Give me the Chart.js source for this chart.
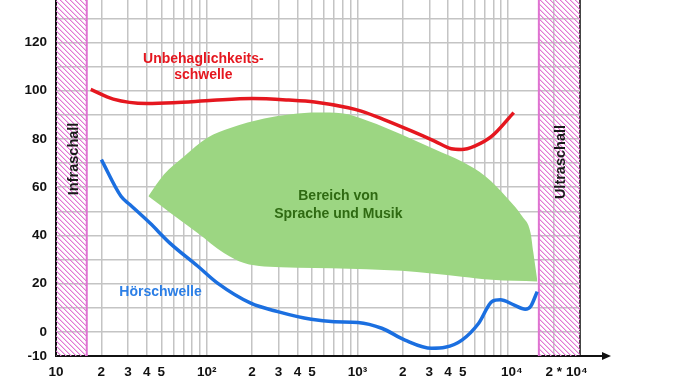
<!DOCTYPE html>
<html>
<head>
<meta charset="utf-8">
<script src="https://cdn.jsdelivr.net/npm/chart.js@4"></script>
<style>
  body { margin: 0; background: #fff; }
  #wrap { position: relative; width: 678px; height: 381px; overflow: hidden; }
  #grafico { position: absolute; left: 0; top: -40px; }
</style>
</head>
<body>
<div id="wrap"><canvas id="grafico" width="678" height="421"></canvas></div>
<script>
// Frecuencias (Hz) y niveles (dB)
var unbehagF = [17, 24, 40, 60, 110, 200, 350, 520, 870, 1060, 1500, 2300, 3250, 4200, 4900, 6000, 7800, 10900];
var unbehagDb = [100.5, 96.5, 94.7, 95.0, 96.0, 96.7, 96.1, 95.3, 92.9, 91.5, 88.0, 83.2, 79.1, 75.9, 75.6, 77.0, 81.1, 90.9];

var hoerF = [20, 27, 31, 42, 57, 87, 118, 196, 296, 494, 703, 1010, 1450, 2070, 3110, 3820, 4940, 6380, 7820, 8880, 10900, 13000, 14100, 15600];
var hoerDb = [71.4, 56.2, 52.7, 45.1, 36.8, 27.3, 20.2, 11.9, 8.4, 5.2, 4.2, 3.9, 1.5, -3.4, -6.8, -6.4, -3.4, 3.6, 12.6, 13.3, 11.2, 9.4, 10.5, 16.7];

var spracheObenF = [41, 52, 71, 101, 145, 241, 363, 547, 782, 1180, 1965, 3280, 4940, 7060, 10100, 12400, 14100, 14700, 15600];
var spracheObenDb = [56.2, 65.2, 72.8, 80.5, 84.6, 88.4, 90.2, 90.9, 90.6, 87.4, 81.8, 75.6, 70.6, 64.5, 54.8, 47.9, 41.0, 33.0, 21.6];
var spracheUntenF = [41, 57.5, 87, 130, 177, 241, 671, 1965, 4940, 7820, 15600];
var spracheUntenDb = [56.2, 49.3, 41.0, 32.7, 28.5, 27.1, 26.4, 25.3, 22.9, 21.6, 20.9];

var infraGrenze = [10, 16];
var ultraGrenze = [16000, 30000];
var yMin = -10, yMax = 150;

var xTicks = [10, 20, 30, 40, 50, 60, 70, 80, 90,
  100, 200, 300, 400, 500, 600, 700, 800, 900,
  1000, 2000, 3000, 4000, 5000, 6000, 7000, 8000, 9000,
  10000, 20000, 30000];
var xTickLabels = ['10', '2', '3', '4', '5', '', '', '', '',
  '10²', '2', '3', '4', '5', '', '', '', '',
  '10³', '2', '3', '4', '5', '', '', '', '',
  '  10⁴', '       2 * 10⁴', ''];

function puntos(xs, ys) {
  return xs.map(function(x, i) { return {x: x, y: ys[i]}; });
}

// Patrón rayado rosa (solo diagonales "\")
function rayado() {
  var s = 10;
  var c = document.createElement('canvas');
  c.width = s; c.height = s;
  var g = c.getContext('2d');
  var img = g.createImageData(s, s);
  for (var y = 0; y < s; y++) {
    for (var x = 0; x < s; x++) {
      var d = ((x - y) % 5 + 5) % 5;
      var a = d === 0 ? 255 : (d === 1 ? 110 : 0);
      var k = (y * s + x) * 4;
      img.data[k] = 226; img.data[k + 1] = 120; img.data[k + 2] = 212; img.data[k + 3] = a;
    }
  }
  g.putImageData(img, 0, 0);
  return g.createPattern(c, 'repeat');
}

var ctx = document.getElementById('grafico').getContext('2d');
var patron = rayado();
var rosa = '#df72d1';
var fuente = '"Liberation Sans", Arial, Helvetica, sans-serif';

var textos = [
  {t: 'Unbehaglichkeits-', x: 95, y: 113.0, c: '#e5171f'},
  {t: 'schwelle', x: 95, y: 106.4, c: '#e5171f'},
  {t: 'Hörschwelle', x: 49.4, y: 16.3, c: '#2c7fe6'},
  {t: 'Bereich von', x: 747, y: 56.1, c: '#2f6a12'},
  {t: 'Sprache und Musik', x: 747, y: 49, c: '#2f6a12'}
];
var textosVert = [
  {t: 'Infraschall', x: 14.0, y: 71.7},
  {t: 'Ultraschall', x: 23700, y: 70.4}
];

var anotaciones = {
  id: 'anotaciones',
  afterDatasetsDraw: function(chart) {
    var c = chart.ctx, xs = chart.scales.x, ys = chart.scales.y;
    c.save();
    c.font = 'bold 14px ' + fuente;
    c.textAlign = 'center';
    c.textBaseline = 'middle';
    textos.forEach(function(n) {
      c.fillStyle = n.c;
      c.fillText(n.t, xs.getPixelForValue(n.x), ys.getPixelForValue(n.y));
    });
    c.font = 'bold 14.5px ' + fuente;
    c.fillStyle = '#1a1a1a';
    c.textBaseline = 'alphabetic';
    textosVert.forEach(function(n) {
      c.save();
      c.translate(xs.getPixelForValue(n.x), ys.getPixelForValue(n.y));
      c.rotate(-Math.PI / 2);
      c.fillText(n.t, 0, 0);
      c.restore();
    });
    c.restore();
  },
  afterDraw: function(chart) {
    // flecha del eje x
    var c = chart.ctx, a = chart.chartArea;
    c.save();
    c.strokeStyle = '#111';
    c.fillStyle = '#111';
    c.lineWidth = 2;
    c.beginPath();
    c.moveTo(a.right, a.bottom);
    c.lineTo(a.right + 24, a.bottom);
    c.stroke();
    c.beginPath();
    c.moveTo(a.right + 22, a.bottom - 4);
    c.lineTo(a.right + 31, a.bottom);
    c.lineTo(a.right + 22, a.bottom + 4);
    c.closePath();
    c.fill();
    c.restore();
  }
};

var sinPuntos = {pointRadius: 0, pointHoverRadius: 0};

var grafico = new Chart(ctx, {
  type: 'line',
  data: {
    datasets: [
      Object.assign({data: puntos(unbehagF, unbehagDb), borderColor: '#e5171f', borderWidth: 3.5,
        cubicInterpolationMode: 'monotone', fill: false, order: 1}, sinPuntos),
      Object.assign({data: puntos(hoerF, hoerDb), borderColor: '#1b6fe0', borderWidth: 3.5,
        cubicInterpolationMode: 'monotone', fill: false, order: 1}, sinPuntos),
      Object.assign({data: puntos(spracheObenF, spracheObenDb), borderColor: 'rgba(0,0,0,0)', borderWidth: 0,
        backgroundColor: '#9cd682', cubicInterpolationMode: 'monotone', fill: '+1', order: 4}, sinPuntos),
      Object.assign({data: puntos(spracheUntenF, spracheUntenDb), borderColor: 'rgba(0,0,0,0)', borderWidth: 0,
        cubicInterpolationMode: 'monotone', fill: false, order: 4}, sinPuntos),
      Object.assign({data: puntos(infraGrenze, [yMax, yMax]), borderColor: 'rgba(0,0,0,0)', borderWidth: 0,
        backgroundColor: patron, fill: 'start', order: 6}, sinPuntos),
      Object.assign({data: puntos(ultraGrenze, [yMax, yMax]), borderColor: 'rgba(0,0,0,0)', borderWidth: 0,
        backgroundColor: patron, fill: 'start', order: 6}, sinPuntos),
      Object.assign({data: puntos([infraGrenze[1], infraGrenze[1]], [yMin, yMax]), borderColor: rosa,
        borderWidth: 2, fill: false, order: 3}, sinPuntos),
      Object.assign({data: puntos([ultraGrenze[0], ultraGrenze[0]], [yMin, yMax]), borderColor: rosa,
        borderWidth: 2, fill: false, order: 3}, sinPuntos)
    ]
  },
  options: {
    responsive: false,
    animation: false,
    devicePixelRatio: 1,
    layout: {padding: {top: 10, right: 98, bottom: 0, left: 0}},
    plugins: {legend: {display: false}, tooltip: {enabled: false}},
    scales: {
      x: {
        type: 'logarithmic',
        min: 10,
        max: 30000,
        afterBuildTicks: function(scale) {
          scale.ticks = xTicks.map(function(v) { return {value: v}; });
        },
        afterFit: function(scale) {
          scale.height = 25;
          scale.paddingLeft = 0; scale.paddingRight = 0;
        },
        grid: {
          drawTicks: false,
          color: function(c) { return c.tick && c.tick.value === 30000 ? '#444' : '#c4c4c4'; },
          lineWidth: function(c) { return c.tick && c.tick.value === 30000 ? 2 : 1.5; }
        },
        border: {color: '#111', width: 2},
        ticks: {
          autoSkip: false,
          maxRotation: 0,
          padding: 8,
          color: '#111',
          font: {family: fuente, size: 13.5, weight: 'bold'},
          callback: function(v) { return xTickLabels[xTicks.indexOf(v)]; }
        }
      },
      y: {
        min: yMin,
        max: yMax,
        afterFit: function(scale) {
          scale.width = 56;
          scale.paddingTop = 0; scale.paddingBottom = 0;
        },
        grid: {drawTicks: false, color: '#c4c4c4', lineWidth: 1.5},
        border: {color: '#111', width: 2},
        ticks: {
          stepSize: 10,
          padding: 9,
          color: '#111',
          font: {family: fuente, size: 13.5, weight: 'bold'},
          callback: function(v) {
            if (v === -10) return '-10';
            if (v === 150) return '';
            return v % 20 === 0 ? String(v) : '';
          }
        }
      }
    }
  },
  plugins: [anotaciones]
});
</script>
</body>
</html>
